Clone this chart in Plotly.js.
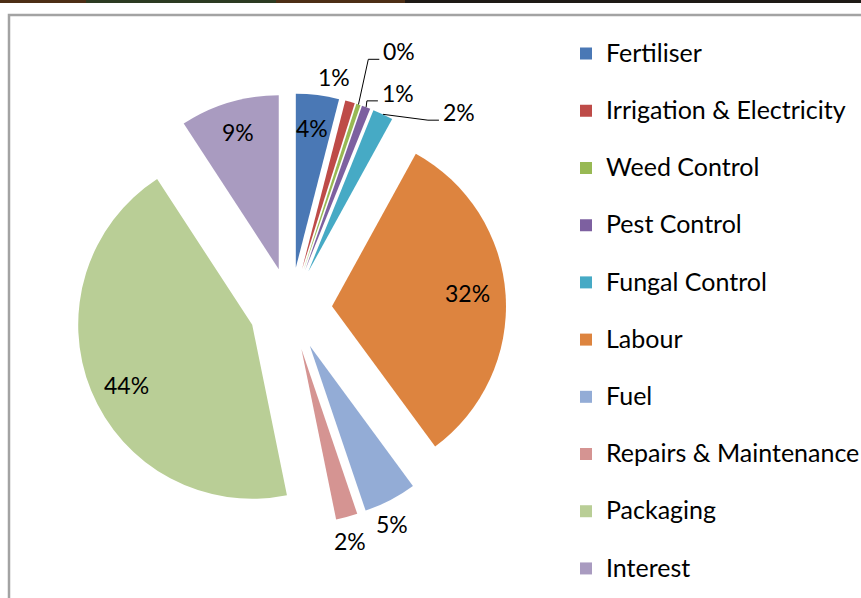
<!DOCTYPE html>
<html><head><meta charset="utf-8">
<script src="https://cdn.plot.ly/plotly-3.0.1.min.js"></script>
<style>html,body{margin:0;padding:0;background:#fff;}#chart{width:861px;height:598px;}</style>
</head><body><div id="chart"></div>
<script>
// ---- data ----
const categories = ['Fertiliser','Irrigation & Electricity','Weed Control','Pest Control','Fungal Control','Labour','Fuel','Repairs & Maintenance','Packaging','Interest'];
const costShare = [4.0, 0.9, 0.4, 0.8, 1.9, 31.9, 4.9, 2.0, 44.0, 9.2];
const sliceColors = ['#4A78B5','#BE4B48','#98B954','#7D60A0','#46AAC5','#DD843F','#93ACD6','#D59492','#B9CE96','#A99BC0'];

// ---- layout geometry ----
const W = 861, H = 598;
const PULL = 0.2385;
const dom = {x: [0.0704, 0.6046], y: [0.1229, 0.8436]};
const boxW = W * (dom.x[1] - dom.x[0]), boxH = H * (dom.y[1] - dom.y[0]);
const R = Math.min(boxW, boxH) / (2 + 2 * PULL);
const CX = W * (dom.x[0] + dom.x[1]) / 2;
const CY = H * (1 - dom.y[0]) - boxH / 2;
const FONT = 'Lato, "Open Sans", sans-serif';

// label placement (radius factor from slice centre, angular shift in degrees)
const labelPlace = [
  {f: 0.81, d: -0.6}, {f: 1.12, d: -6.6}, {f: 1.37, d: 5.3, leader: true},
  {f: 1.15, d: 7.1, leader: true}, {f: 1.26, d: 18, leader: true},
  {f: 0.78, d: -2}, {f: 1.13, d: 2.7}, {f: 1.14, d: 0.9},
  {f: 0.80, d: -3.3}, {f: 0.82, d: 0}
];

const total = costShare.reduce((a, b) => a + b, 0);
const px2x = p => p / W, px2y = p => 1 - p / H;
const annotations = [], shapes = [];
let cum = 0;
costShare.forEach((v, i) => {
  const mid = (cum + v / 2) / total * 2 * Math.PI;
  cum += v;
  const sx = CX + PULL * R * Math.sin(mid), sy = CY - PULL * R * Math.cos(mid);
  const lp = labelPlace[i];
  const a = mid + lp.d * Math.PI / 180;
  const lx = sx + lp.f * R * Math.sin(a), ly = sy - lp.f * R * Math.cos(a);
  annotations.push({
    xref: 'paper', yref: 'paper', x: px2x(lx), y: px2y(ly), showarrow: false,
    text: Math.round(v / total * 100) + '%', xanchor: 'center', yanchor: 'middle',
    font: {family: FONT, size: 23, color: '#000'}
  });
  if (lp.leader) {
    const ox = sx + R * Math.sin(mid), oy = sy - R * Math.cos(mid);
    shapes.push({
      type: 'path', xref: 'paper', yref: 'paper',
      path: `M ${px2x(ox)} ${px2y(oy)} L ${px2x(lx - 31)} ${px2y(ly + 8)} L ${px2x(lx - 20)} ${px2y(ly + 8)}`,
      line: {color: '#000', width: 1}
    });
  }
});

// chart-area frame and top rule
shapes.push({type: 'rect', xref: 'paper', yref: 'paper', x0: px2x(9), x1: 1.02, y0: -0.02, y1: px2y(15),
  line: {color: '#a3a3a3', width: 2.5}, fillcolor: 'rgba(0,0,0,0)'});
[[0, 86, '#4d2e16'], [86, 276, '#2c3b22'], [276, 405, '#4d2e16'], [405, 861, '#1e1a16']].forEach(s => {
  shapes.push({type: 'line', xref: 'paper', yref: 'paper', x0: px2x(s[0]), x1: px2x(s[1]), y0: px2y(1.5), y1: px2y(1.5),
    line: {color: s[2], width: 3}});
});

const trace = {
  type: 'pie', labels: categories.map(c => `<span style="font-size:25px">${c}</span><br> `),
  values: costShare, sort: false, direction: 'clockwise', rotation: 0, pull: PULL,
  marker: {colors: sliceColors, line: {width: 0}}, textinfo: 'none',
  hovertemplate: '%{label}: %{percent}<extra></extra>', domain: dom
};

const layout = {
  width: W, height: H, margin: {l: 0, r: 0, t: 0, b: 0, autoexpand: false},
  paper_bgcolor: '#fff', showlegend: true,
  legend: {x: px2x(566), xanchor: 'left', y: px2y(33.5), yanchor: 'top', valign: 'top',
    font: {family: FONT, size: 20.85, color: '#000'}, bgcolor: 'rgba(0,0,0,0)', borderwidth: 0},
  annotations: annotations, shapes: shapes
};
Plotly.newPlot('chart', [trace], layout, {displayModeBar: false, staticPlot: true});
</script></body></html>
